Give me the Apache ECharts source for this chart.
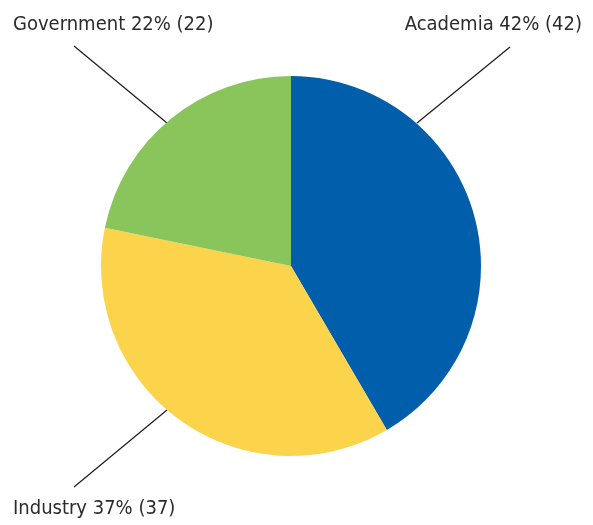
<!DOCTYPE html>
<html>
<head>
<meta charset="utf-8">
<script src="https://cdn.jsdelivr.net/npm/echarts@6/dist/echarts.min.js"></script>
<style>
  html, body { margin: 0; padding: 0; background: #fff; }
  #chart { width: 593px; height: 525px; }
</style>
</head>
<body>
<div id="chart"></div>
<script>
// sectors, clockwise from 12 o'clock
const sectors = ["Academia", "Industry", "Government"];
const counts = [42, 37, 22];
const percents = [42, 37, 22];
const colors = ["#005eaa", "#fcd44c", "#89c55a"];

// label placement: text anchor + leader line (edge of pie -> label)
const labelSpots = [
  { x: 582, y: 25, align: "right", line: [[417, 123], [510, 47]] },
  { x: 13, y: 509, align: "left", line: [[167, 410], [74, 487]] },
  { x: 13, y: 25, align: "left", line: [[167, 123], [74, 46]] }
];

const chart = echarts.init(document.getElementById("chart"));

chart.setOption({
  animation: false,
  series: [{
    type: "pie",
    center: [291, 266],
    radius: 190,
    startAngle: 90,
    clockwise: true,
    data: sectors.map((name, i) => ({
      name: name,
      value: counts[i],
      itemStyle: { color: colors[i] }
    })),
    label: {
      show: true,
      position: "outside",
      overflow: "none",
      width: 300,
      fontFamily: "DejaVu Sans Condensed, sans-serif",
      fontSize: 20,
      color: "#2b2b2b",
      formatter: p => p.name + " " + percents[p.dataIndex] + "% (" + counts[p.dataIndex] + ")"
    },
    labelLine: {
      show: true,
      lineStyle: { color: "#1a1a1a", width: 1.2 }
    },
    labelLayout: function (params) {
      const s = labelSpots[params.dataIndex];
      return {
        x: s.x,
        y: s.y,
        align: s.align,
        verticalAlign: "middle",
        labelLinePoints: s.line
      };
    },
    emphasis: { disabled: true }
  }]
});
</script>
</body>
</html>
